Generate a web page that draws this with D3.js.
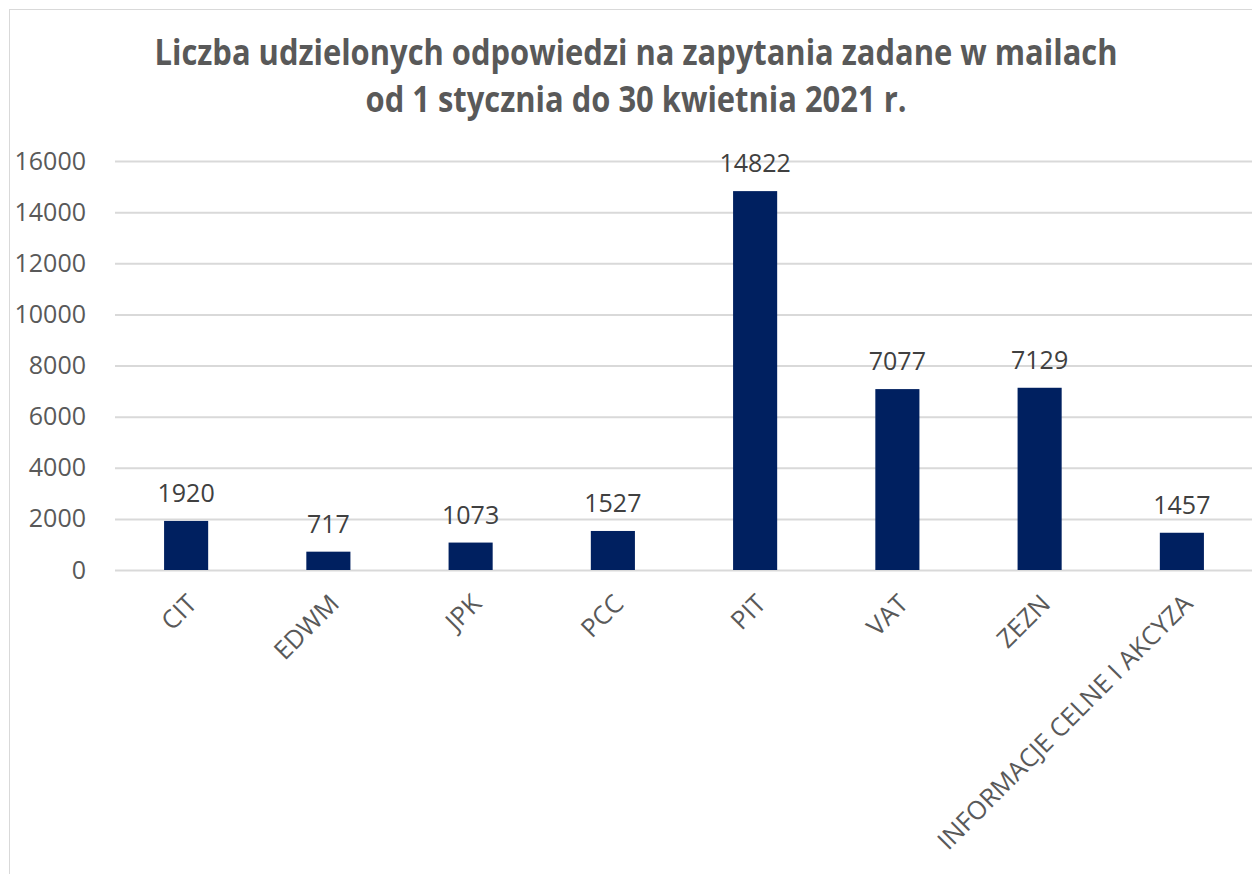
<!DOCTYPE html>
<html>
<head>
<meta charset="utf-8">
<script src="https://cdn.jsdelivr.net/npm/d3@7"></script>
<style>
  body { margin: 0; background: #fff; }
  svg { display: block; font-family: "Open Sans", sans-serif; }
</style>
</head>
<body>
<svg id="chart"></svg>
<script>
const categories = ['CIT', 'EDWM', 'JPK', 'PCC', 'PIT', 'VAT', 'ZEZN', 'INFORMACJE CELNE I AKCYZA'];
const values = [1920, 717, 1073, 1527, 14822, 7077, 7129, 1457];
const yTicks = [0, 2000, 4000, 6000, 8000, 10000, 12000, 14000, 16000];
const titleLines = ['Liczba udzielonych odpowiedzi na zapytania zadane w mailach', 'od 1 stycznia do 30 kwietnia 2021 r.'];

const width = 1252;
const height = 874;
const svg = d3.select('#chart')
  .attr('width', width)
  .attr('height', height);

// ramka wykresu
svg.append('rect')
  .attr('x', 9.5)
  .attr('y', 9.5)
  .attr('width', width + 20)
  .attr('height', height + 20)
  .attr('fill', 'none')
  .attr('stroke', '#d9d9d9');

// tytuł
const titleWidths = [963, 541];
svg.selectAll('.title')
  .data(titleLines)
  .enter()
  .append('text')
  .attr('class', 'title')
  .attr('x', 636)
  .attr('y', (d, i) => 65 + i * 47)
  .attr('text-anchor', 'middle')
  .attr('textLength', (d, i) => titleWidths[i])
  .attr('lengthAdjust', 'spacingAndGlyphs')
  .style('font-size', '35px')
  .style('font-weight', 'bold')
  .attr('fill', '#595959')
  .text(d => d);

const plot = { left: 115, right: 1253, top: 161, bottom: 570 };

const xScale = d3.scaleBand()
  .domain(categories)
  .range([plot.left, plot.right])
  .paddingInner(0.69)
  .paddingOuter(0.345);

const yScale = d3.scaleLinear()
  .domain([0, 16000])
  .range([plot.bottom, plot.top]);

// linie siatki + etykiety osi Y
const yAxis = d3.axisLeft(yScale)
  .tickValues(yTicks)
  .tickSize(-(plot.right - plot.left))
  .tickPadding(29)
  .tickFormat(d3.format('d'));

const yg = svg.append('g')
  .attr('transform', `translate(${plot.left}, 0)`)
  .call(yAxis);
yg.select('.domain').remove();
yg.selectAll('.tick line')
  .attr('stroke', '#d9d9d9')
  .attr('stroke-width', 2);
yg.selectAll('.tick text')
  .attr('fill', '#595959')
  .style('font-size', '25px')
  .style('font-family', '"Open Sans", sans-serif');

// słupki
svg.selectAll('.bar')
  .data(values)
  .enter()
  .append('rect')
  .attr('class', 'bar')
  .attr('x', (d, i) => xScale(categories[i]))
  .attr('y', d => yScale(d))
  .attr('width', xScale.bandwidth())
  .attr('height', d => yScale(0) - yScale(d))
  .attr('fill', '#002060');

// etykiety wartości
svg.selectAll('.val')
  .data(values)
  .enter()
  .append('text')
  .attr('class', 'val')
  .attr('x', (d, i) => xScale(categories[i]) + xScale.bandwidth() / 2)
  .attr('y', d => yScale(d) - 19)
  .attr('text-anchor', 'middle')
  .attr('fill', '#404040')
  .style('font-size', '25px')
  .text(d => d);

// etykiety osi X
const xAxis = d3.axisBottom(xScale).tickSize(0).tickPadding(0);
const xg = svg.append('g')
  .attr('transform', `translate(0, ${plot.bottom})`)
  .call(xAxis);
xg.select('.domain').remove();
xg.selectAll('.tick text')
  .attr('fill', '#595959')
  .style('font-size', '25.5px')
  .style('font-family', '"Open Sans", sans-serif')
  .attr('text-anchor', 'end')
  .attr('dy', '0.35em')
  .attr('transform', 'translate(6, 29) rotate(-45)');
</script>
</body>
</html>
